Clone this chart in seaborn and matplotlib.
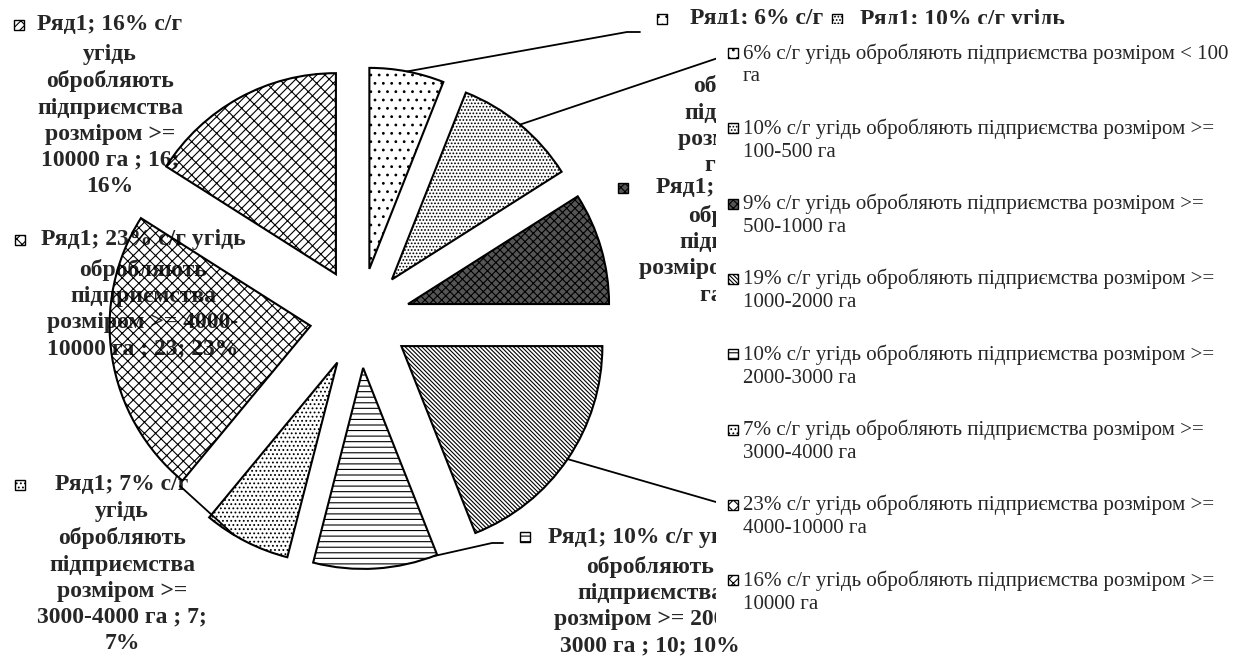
import numpy as np
import matplotlib
matplotlib.use('Agg')
import matplotlib.pyplot as plt
from matplotlib.patches import Rectangle
import seaborn as sns

W, H = 1237, 657

# shares of farmland by enterprise size (%)
shares = [6, 10, 9, 19, 10, 7, 23, 16]
legend_labels = [
    '6% с/г угідь обробляють підприємства розміром < 100\nга',
    '10% с/г угідь обробляють підприємства розміром >=\n100-500 га',
    '9% с/г угідь обробляють підприємства розміром >=\n500-1000 га',
    '19% с/г угідь обробляють підприємства розміром >=\n1000-2000 га',
    '10% с/г угідь обробляють підприємства розміром >=\n2000-3000 га',
    '7% с/г угідь обробляють підприємства розміром >=\n3000-4000 га',
    '23% с/г угідь обробляють підприємства розміром >=\n4000-10000 га',
    '16% с/г угідь обробляють підприємства розміром >=\n10000 га',
]
# data labels: first line, remaining lines
label_heads = {
    0: 'Ряд1; 6% с/г',
    1: 'Ряд1; 10% с/г угідь',
    2: 'Ряд1; 9% с/г угідь',
    4: 'Ряд1; 10% с/г угідь',
    5: 'Ряд1; 7% с/г',
    6: 'Ряд1; 23% с/г угідь',
    7: 'Ряд1; 16% с/г',
}
label_bodies = {
    0: ['угідь', 'обробляють', 'підприємства', 'розміром < 100', 'га ; 6; 6%'],
    1: ['обробляють', 'підприємства', 'розміром >= 100-500', 'га ; 10; 10%'],
    2: ['обробляють', 'підприємства', 'розміром >= 500-1000', 'га ; 9; 9%'],
    4: ['обробляють', 'підприємства', 'розміром >= 2000-', '3000 га ; 10; 10%'],
    5: ['угідь', 'обробляють', 'підприємства', 'розміром >=', '3000-4000 га ; 7;', '7%'],
    6: ['обробляють', 'підприємства', 'розміром >= 4000-', '10000 га ; 23; 23%'],
    7: ['угідь', 'обробляють', 'підприємства', 'розміром >=', '10000 га ; 16;', '16%'],
}

# styling / layout (pixel coordinates, y downwards)
hatches = ['..', '.....', 'xxxx', '\\' * 8, '---', '....', 'xxx', '//xx']
faces = ['none', 'none', '#555555', 'none', 'none', 'none', 'none', 'none']
label_pos = {  # center x, head y, body first-line y, marker x
    0: (757, 19, 58, 657),
    1: (962, 19, 47, 832),
    2: (752, 188, 214, 618),
    4: (650, 537, 565, 520),
    5: (122, 485, 510, 15),
    6: (143, 240, 268, 15),
    7: (110, 25, 53, 14),
}
leaders = {  # slice: (position along arc, list of end points)
    0: (0.5, [(627, 32), (640, 32)]),
    1: (0.5, [(718, 58)]),
    3: (0.5, [(716, 502)]),
    4: (0.03, [(492, 543), (503, 543)]),
    5: (0.66, [(180, 486)]),
}

sns.set_theme(style='white')
plt.rcParams['font.family'] = ['Liberation Serif', 'DejaVu Serif']
plt.rcParams['hatch.linewidth'] = 0.8

fig = plt.figure(figsize=(W / 100, H / 100), dpi=100)
ax = fig.add_axes([0, 0, 1, 1])

wedges, _ = ax.pie(shares, radius=201, center=(360, 318), explode=[50] * len(shares),
                   startangle=-90, counterclock=True,
                   wedgeprops=dict(edgecolor='black', linewidth=1.5))
for w, h, fc in zip(wedges, hatches, faces):
    w.set_hatch(h)
    w.set_facecolor(fc)
    w.set_zorder(2)

ax.set_xlim(0, W)
ax.set_ylim(H, 0)
ax.set_aspect('equal')
ax.axis('off')

# leader lines from the slice arcs
for i, (t, pts) in leaders.items():
    w = wedges[i]
    th = np.deg2rad(w.theta1 + t * (w.theta2 - w.theta1))
    x0 = w.center[0] + w.r * np.cos(th)
    y0 = w.center[1] + w.r * np.sin(th)
    xs = [x0] + [p[0] for p in pts]
    ys = [y0] + [p[1] for p in pts]
    ax.plot(xs, ys, color='black', lw=1.3, zorder=2.5)

# data labels with legend keys (drawn under the hatched slices)
lab_fs = 17
for i, head in label_heads.items():
    cx, hy, by, mx = label_pos[i]
    ax.text(cx, hy, head, ha='center', va='center', fontsize=lab_fs,
            fontweight='bold', zorder=1)
    ax.text(cx, by - 9, '\n'.join(label_bodies[i]), ha='center', va='top',
            fontsize=lab_fs, fontweight='bold', linespacing=1.32, zorder=1)
    ax.add_patch(Rectangle((mx, hy - 5), 10, 10, facecolor=faces[i], hatch=hatches[i],
                           edgecolor='black', lw=1, zorder=3))

# legend (white box on top of the labels)
ax.add_patch(Rectangle((716, 24), W - 716, 612, facecolor='white', edgecolor='none', zorder=5))
for i, lab in enumerate(legend_labels):
    y = 53 + 75.3 * i
    ax.add_patch(Rectangle((728, y - 5), 10, 10, facecolor=faces[i], hatch=hatches[i],
                           edgecolor='black', lw=1, zorder=6))
    ax.text(743, y - 10, lab, ha='left', va='top', fontsize=15.1,
            linespacing=1.28, zorder=6)

fig.savefig('out.png', dpi=100)
